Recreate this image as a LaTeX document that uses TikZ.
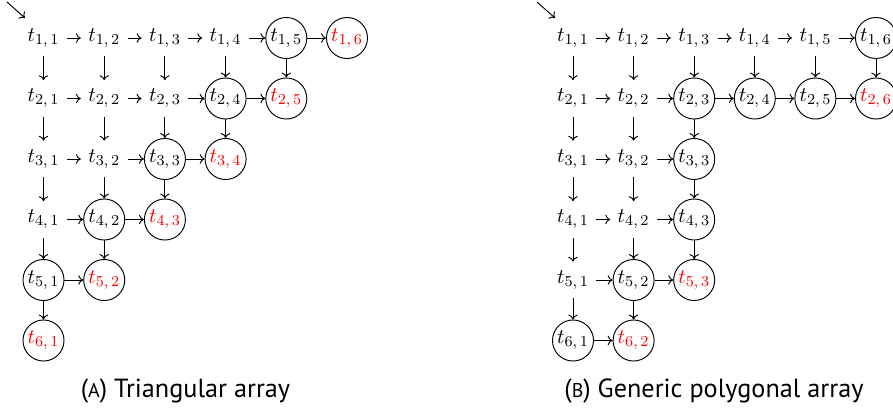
\documentclass[tikz,border=0pt]{standalone}
\usepackage{fontspec}
\newfontfamily\capfont{PT Sans}
\usetikzlibrary{arrows.meta}
\begin{document}
\begin{tikzpicture}[x=0.5263pt,y=-0.5263pt,
  every node/.style={font=\fontsize{11}{13}\selectfont},
  plainn/.style={rectangle,inner sep=0pt,minimum width=24.2pt,minimum height=18.9pt},
  circ/.style={circle,draw,line width=0.5pt,inner sep=0pt,minimum size=21.6pt},
  redc/.style={circ,text=red},
  arr/.style={-{To[length=2.6pt,width=5pt]},line width=0.5pt},
  capstyle/.style={font=\capfont\fontsize{13.8}{16}\selectfont,inner sep=0pt}]
\useasboundingbox (0,0) rectangle (893,412);
% left array
\foreach \i/\j/\st in {1/1/plainn,1/2/plainn,1/3/plainn,1/4/plainn,1/5/circ,1/6/redc,
  2/1/plainn,2/2/plainn,2/3/plainn,2/4/circ,2/5/redc,
  3/1/plainn,3/2/plainn,3/3/circ,3/4/redc,
  4/1/plainn,4/2/circ,4/3/redc,
  5/1/circ,5/2/redc,
  6/1/redc}
  \node[\st] (a\i\j) at ({43.5+60.7*(\j-1)},{38+60.5*(\i-1)}) {$t_{\i,\,\j}$};
% right array
\foreach \i/\j/\st in {1/1/plainn,1/2/plainn,1/3/plainn,1/4/plainn,1/5/plainn,1/6/circ,
  2/1/plainn,2/2/plainn,2/3/circ,2/4/circ,2/5/circ,2/6/redc,
  3/1/plainn,3/2/plainn,3/3/circ,
  4/1/plainn,4/2/plainn,4/3/circ,
  5/1/plainn,5/2/circ,5/3/redc,
  6/1/circ,6/2/redc}
  \node[\st] (b\i\j) at ({573+60.6*(\j-1)},{38+60.5*(\i-1)}) {$t_{\i,\,\j}$};
% left arrows
\foreach \u/\v in {a11/a12,a12/a13,a13/a14,a14/a15,a15/a16,
  a21/a22,a22/a23,a23/a24,a24/a25,
  a31/a32,a32/a33,a33/a34,
  a41/a42,a42/a43,
  a51/a52,
  a11/a21,a12/a22,a13/a23,a14/a24,a15/a25,
  a21/a31,a22/a32,a23/a33,a24/a34,
  a31/a41,a32/a42,a33/a43,
  a41/a51,a42/a52,
  a51/a61}
  \draw[arr] (\u) -- (\v);
% right arrows
\foreach \u/\v in {b11/b12,b12/b13,b13/b14,b14/b15,b15/b16,
  b21/b22,b22/b23,b23/b24,b24/b25,b25/b26,
  b31/b32,b32/b33,
  b41/b42,b42/b43,
  b51/b52,b52/b53,
  b61/b62,
  b11/b21,b12/b22,b13/b23,b14/b24,b15/b25,b16/b26,
  b21/b31,b22/b32,b23/b33,
  b31/b41,b32/b42,b33/b43,
  b41/b51,b42/b52,b43/b53,
  b51/b61,b52/b62}
  \draw[arr] (\u) -- (\v);
% start arrows
\coordinate (sA) at (7,2);
\coordinate (eA) at (25,18);
\draw[arr] (sA) -- (eA);
\coordinate (sB) at (537,2);
\coordinate (eB) at (555,18);
\draw[arr] (sB) -- (eB);
% captions
\node[capstyle] (capA) at (185.5,391) {({\fontsize{10.5}{12}\selectfont A}) Triangular array};
\node[capstyle] (capB) at (714,391) {({\fontsize{10.5}{12}\selectfont B}) Generic polygonal array};
\end{tikzpicture}
\end{document}
